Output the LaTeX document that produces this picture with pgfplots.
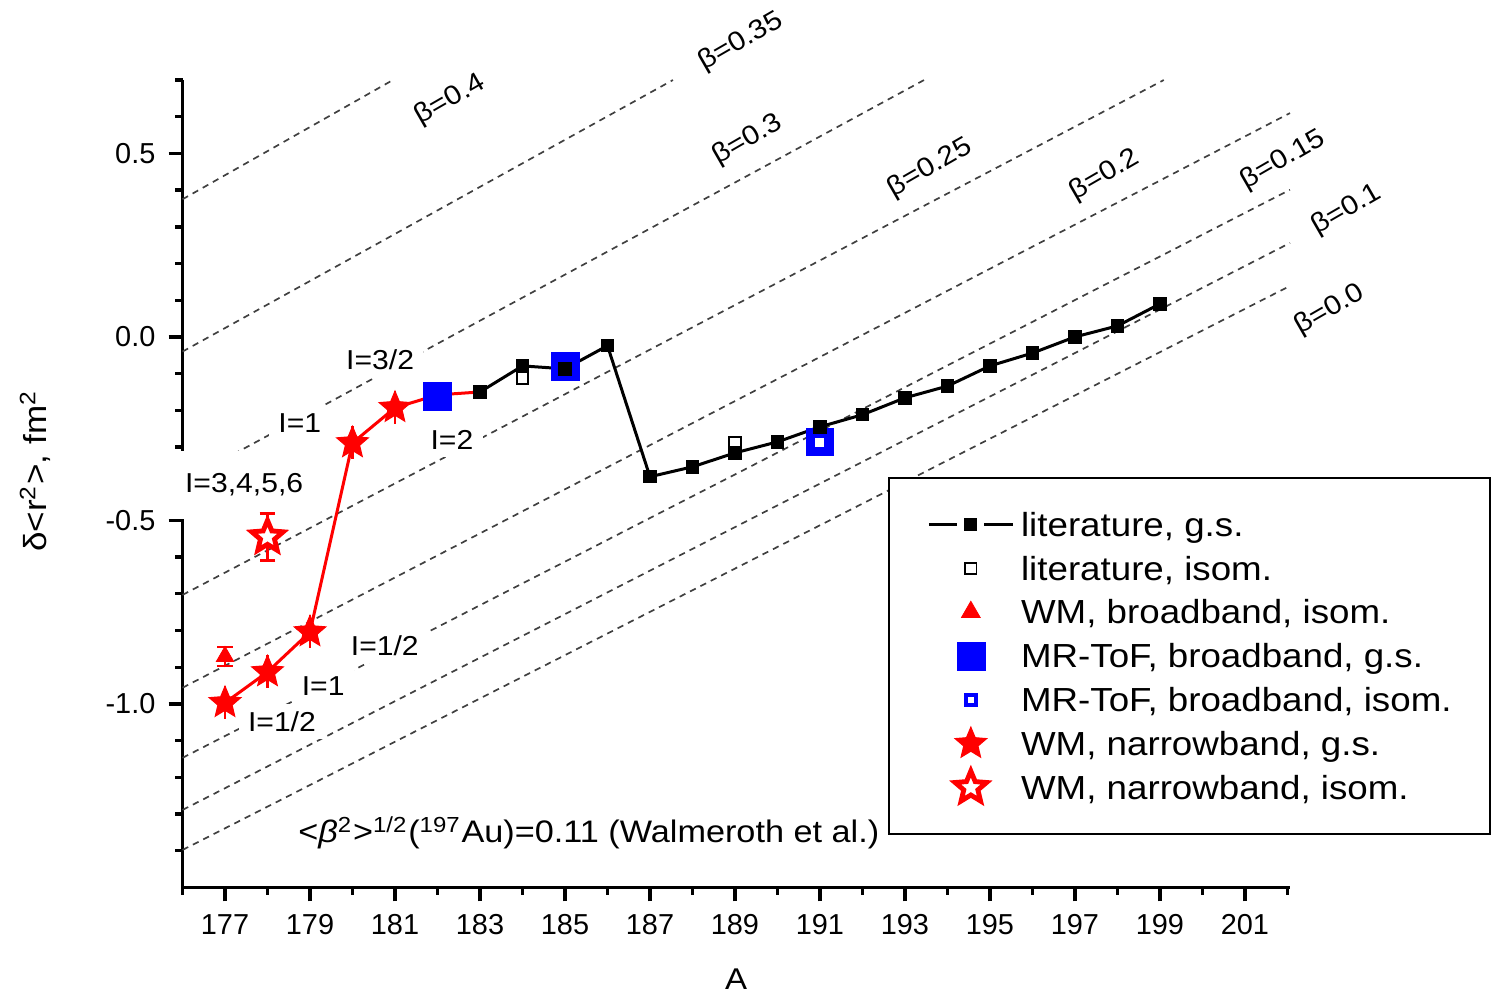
\documentclass[border=0pt]{standalone}
\usepackage{fontspec}
\setmainfont{Liberation Sans}[FakeStretch=1.1]
\newfontfamily\tickfont{Liberation Sans}
\usepackage{pgfplots}
\pgfplotsset{compat=1.18}

\pgfdeclareplotmark{fstar}{%
  \pgfpathmoveto{\pgfpointpolar{90}{\pgfplotmarksize}}%
  \pgfpathlineto{\pgfpointpolar{126}{0.45\pgfplotmarksize}}%
  \pgfpathlineto{\pgfpointpolar{162}{\pgfplotmarksize}}%
  \pgfpathlineto{\pgfpointpolar{198}{0.45\pgfplotmarksize}}%
  \pgfpathlineto{\pgfpointpolar{234}{\pgfplotmarksize}}%
  \pgfpathlineto{\pgfpointpolar{270}{0.45\pgfplotmarksize}}%
  \pgfpathlineto{\pgfpointpolar{306}{\pgfplotmarksize}}%
  \pgfpathlineto{\pgfpointpolar{342}{0.45\pgfplotmarksize}}%
  \pgfpathlineto{\pgfpointpolar{18}{\pgfplotmarksize}}%
  \pgfpathlineto{\pgfpointpolar{54}{0.45\pgfplotmarksize}}%
  \pgfpathclose
  \pgfusepathqfillstroke
}

\pgfplotsset{
  linemark legend/.style={
    legend image code/.code={
      \draw[##1, mark=none] (0pt,0pt) -- (7.6pt,0pt) (14.8pt,0pt) -- (22.4pt,0pt);
      \path[##1, draw=none] plot coordinates {(11.2pt,0pt)};
    }
  },
  markonly legend/.style={
    legend image code/.code={
      \path[draw=none] (0pt,0pt) -- (22.4pt,0pt);
      \path[##1, draw=none] plot coordinates {(11.2pt,0pt)};
    }
  },
  betaline/.style={forget plot, black!75, line width=0.45pt, dash pattern=on 1.7pt off 1.4pt, mark=none},
}

\begin{document}
\begin{tikzpicture}
\begin{axis}[
  scale only axis, width=295.33pt, height=215.3pt,
  xmin=176, xmax=202.06, ymin=-1.5, ymax=0.70,
  axis x line*=bottom, axis y line*=left,
  axis line style={-, line width=1pt},
  tick align=outside,
  major tick length=3.7pt, minor tick length=1.9pt,
  every tick/.style={black, line width=0.9pt},
  xtick={177,179,...,201},
  xticklabels={177,179,181,183,185,187,189,191,193,195,197,199,201},
  minor xtick={176,178,...,202},
  ytick={-1,-0.5,0,0.5},
  yticklabels={-1.0,-0.5,0.0,0.5},
  minor ytick={-1.4,-1.3,-1.2,-1.1,-0.9,-0.8,-0.7,-0.6,-0.4,-0.3,-0.2,-0.1,0.1,0.2,0.3,0.4,0.6,0.7},
  ticklabel style={font=\tickfont\fontsize{7.7}{9}\selectfont},
  xlabel={A},
  xlabel style={at={(rel axis cs:0.5,-0.1138)}, anchor=center, font=\fontsize{8}{10}\selectfont},
  ylabel={δ<r\textsuperscript{2}>, fm\textsuperscript{2}},
  ylabel style={at={(rel axis cs:-0.1332,0.5158)}, anchor=center, rotate=0, font=\fontsize{8.5}{10}\selectfont},
  clip=false,
  legend cell align=left,
  legend style={at={(axis cs:192.6,-0.3815)}, anchor=north west, draw=black, line width=0.6pt, fill=white,
    inner xsep=10.2pt, inner ysep=6.5pt, row sep=0pt, column sep=1.8pt,
    font=\fontsize{8.9}{10.7}\selectfont,
    nodes={inner sep=0pt, text height=9pt, text depth=2.7pt}},
]
\coordinate (o) at (rel axis cs:0,0);

% isodeformation lines
\addplot[betaline] coordinates {(176,0.375)(180.95,0.700)};
\addplot[betaline] coordinates {(176,-0.040)(187.54,0.700)};
\addplot[betaline] coordinates {(176,-0.395)(193.45,0.700)};
\addplot[betaline] coordinates {(176,-0.703)(199.09,0.700)};
\addplot[betaline] coordinates {(176,-0.956)(202.06,0.610)};
\addplot[betaline] coordinates {(176,-1.147)(202.06,0.401)};
\addplot[betaline] coordinates {(176,-1.289)(202.06,0.256)};
\addplot[betaline] coordinates {(176,-1.398)(202.06,0.139)};

% red connecting line
\addplot[forget plot, red, line width=0.8pt, mark=none] coordinates {
(177,-0.997)(178,-0.913)(179,-0.804)(180,-0.289)(181,-0.193)(182,-0.158)(183,-0.150)};

% MR-ToF broadband g.s.
\addplot[forget plot, only marks, mark=square*, mark size=3.7pt, mark options={draw=blue, fill=blue, line width=0.1pt}]
coordinates {(182,-0.161)(185,-0.079)};
% MR-ToF broadband isom.
\addplot[forget plot, only marks, mark=square*, mark size=2.47pt, mark options={draw=blue, fill=white, line width=2.55pt}]
coordinates {(191,-0.287)};
% literature isom.
\addplot[forget plot, only marks, mark=square*, mark size=1.5pt, mark options={draw=black, fill=white, line width=0.5pt}]
coordinates {(184,-0.112)(189,-0.289)};
% literature g.s.
\addplot[forget plot, black, line width=0.8pt, mark=square*, mark size=1.65pt, mark options={draw=black, fill=black, line width=0.3pt}]
coordinates {(183,-0.150)(184,-0.079)(185,-0.087)(186,-0.024)(187,-0.381)(188,-0.354)(189,-0.316)(190,-0.286)
(191,-0.245)(192,-0.212)(193,-0.166)(194,-0.134)(195,-0.079)(196,-0.044)(197,0.000)(198,0.030)(199,0.090)};

% spin labels (white boxes break the dashed lines, as in the original)
\begin{scope}[every node/.style={font=\fontsize{7.3}{9}\selectfont, fill=white, inner xsep=2.5pt, inner ysep=2pt}]
\node at (axis cs:180.65,-0.063) {I=3/2};
\node at (axis cs:178.76,-0.234) {I=1};
\node at (axis cs:182.34,-0.281) {I=2};
\node[inner xsep=3pt, inner ysep=6pt] at (axis cs:177.45,-0.403) {I=3,4,5,6};
\node at (axis cs:180.76,-0.842) {I=1/2};
\node at (axis cs:179.31,-0.951) {I=1};
\node at (axis cs:178.34,-1.049) {I=1/2};
\end{scope}

% WM broadband isom.
\addplot[forget plot, only marks, red, mark=triangle*, mark size=2.7pt, mark options={draw=red, fill=red, line width=0.2pt},
  error bars/.cd, y dir=both, y explicit, error bar style={red, line width=0.6pt},
  error mark options={rotate=90, red, mark size=2.1pt, line width=0.6pt}]
coordinates {(177,-0.871) +- (0,0.026)};
% WM narrowband g.s.
\addplot[forget plot, only marks, red, mark=fstar, mark size=4.4pt, mark options={draw=red, fill=red, line width=0.3pt},
  error bars/.cd, y dir=both, y explicit, error mark=none, error bar style={red, line width=0.6pt}]
coordinates {(177,-0.997) +- (0,0.045) (178,-0.913) +- (0,0.045) (179,-0.804) +- (0,0.045)
 (180,-0.289) +- (0,0.045) (181,-0.193) +- (0,0.045)};
% WM narrowband isom.
\addplot[forget plot, only marks, red, mark=fstar, mark size=4.4pt, mark options={draw=red, fill=white, line width=1.3pt},
  error bars/.cd, y dir=both, y explicit, error bar style={red, line width=0.6pt},
  error mark options={rotate=90, red, mark size=2.1pt, line width=0.6pt}]
coordinates {(178,-0.545) +- (0,0.064)};

% beta labels
\begin{scope}[every node/.style={rotate=30, font=\fontsize{7.2}{9}\selectfont, inner sep=0pt}]
\node at (axis cs:182.3,0.646) {β=0.4};
\node at (axis cs:189.14,0.804) {β=0.35};
\node at (axis cs:189.3,0.537) {β=0.3};
\node at (axis cs:193.59,0.460) {β=0.25};
\node at (axis cs:197.7,0.441) {β=0.2};
\node at (axis cs:201.9,0.482) {β=0.15};
\node at (axis cs:203.4,0.346) {β=0.1};
\node at (axis cs:203.0,0.074) {β=0.0};
\end{scope}

\node[font=\fontsize{8.3}{10}\selectfont, inner sep=0pt] at (axis cs:185.56,-1.351)
  {<\textit{β}\textsuperscript{2}>\textsuperscript{1/2}(\textsuperscript{197}Au)=0.11 (Walmeroth et al.)};

% legend
\addlegendimage{black, line width=0.8pt, mark=square*, mark size=1.6pt, mark options={draw=black, fill=black, line width=0.3pt}, linemark legend}
\addlegendentry{literature, g.s.}
\addlegendimage{mark=square*, mark size=1.5pt, mark options={draw=black, fill=white, line width=0.5pt}, markonly legend}
\addlegendentry{literature, isom.}
\addlegendimage{mark=triangle*, mark size=2.9pt, mark options={draw=red, fill=red, line width=0.2pt}, markonly legend}
\addlegendentry{WM, broadband, isom.}
\addlegendimage{mark=square*, mark size=3.7pt, mark options={draw=blue, fill=blue, line width=0.1pt}, markonly legend}
\addlegendentry{MR-ToF, broadband, g.s.}
\addlegendimage{mark=square*, mark size=1.35pt, mark options={draw=blue, fill=white, line width=1.1pt}, markonly legend}
\addlegendentry{MR-ToF, broadband, isom.}
\addlegendimage{mark=fstar, mark size=4.4pt, mark options={draw=red, fill=red, line width=0.3pt}, markonly legend}
\addlegendentry{WM, narrowband, g.s.}
\addlegendimage{mark=fstar, mark size=4.4pt, mark options={draw=red, fill=white, line width=1.3pt}, markonly legend}
\addlegendentry{WM, narrowband, isom.}
\end{axis}
\pgfresetboundingbox
\path[use as bounding box] ([shift={(-48.67pt,-28.69pt)}]o) rectangle ([shift={(351.33pt,236.64pt)}]o);
\end{tikzpicture}
\end{document}
